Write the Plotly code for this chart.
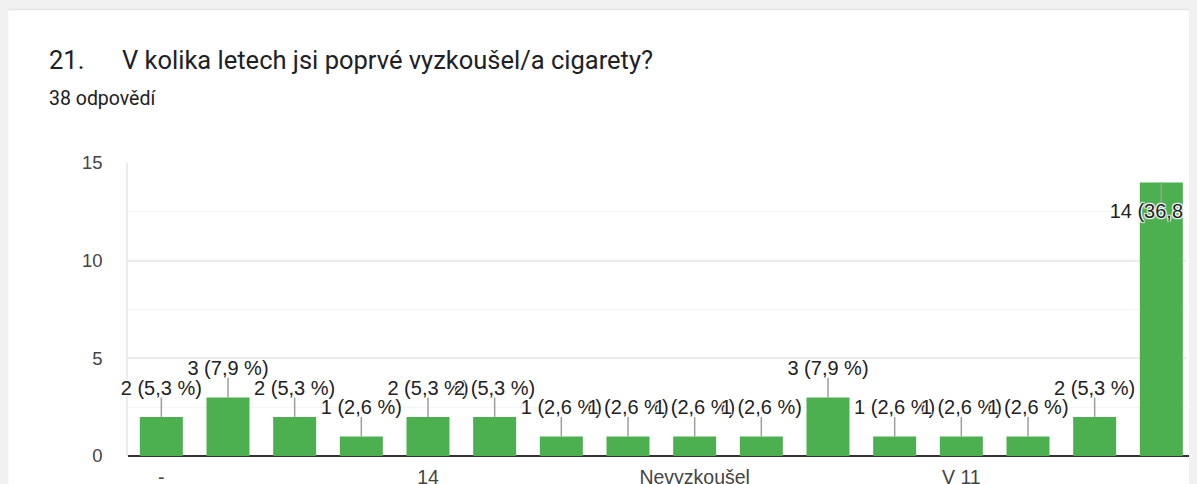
import plotly.graph_objects as go

# ---- data ----
categories = ["-", "10", "11", "13", "14", "15", "16", "17", "Nevyzkoušel",
              "Nikdy", "V 10", "V 10 letech", "V 11", "V 12", "V 13", "V 14"]
values = [2, 3, 2, 1, 2, 2, 1, 1, 1, 1, 3, 1, 1, 1, 2, 14]
total = 38
shown_ticks = ["-", "14", "Nevyzkoušel", "V 11"]
title_num = "21."
title_text = "V kolika letech jsi poprvé vyzkoušel/a cigarety?"
subtitle = "38 odpovědí"

# the page body adds an 8px offset, so the figure covers the rest of the window
OFF = 8
W, H = 1197 - OFF, 484 - OFF
L, T = 127.7 - OFF, 163 - OFF
R = W - (1190 - OFF)
B = H - (456 - OFF)
YMAX = 15

def fmt(v):
    p = v / total * 100
    return f"{v} ({p:.1f} %)".replace(".", ",")

labels = [fmt(v) for v in values]

# label / leader positions (data units)
lab_y, lx, ly = [], [], []
for c, v in zip(categories, values):
    if v + 2.2 > YMAX:
        lab_y.append(v - 1.55)
        lx += [c, c, None]
        ly += [v, v - 1.1, None]
    else:
        lab_y.append(v + 1.4)
        lx += [c, c, None]
        ly += [v, v + 1.0, None]

fig = go.Figure()
fig.add_trace(go.Bar(x=categories, y=values, marker=dict(color="#4caf50", line=dict(width=0)),
                     hoverinfo="skip"))
fig.add_trace(go.Scatter(x=lx, y=ly, mode="lines", line=dict(color="#9e9e9e", width=1.5),
                         hoverinfo="skip"))
halo = "white 1px 1px 1px, white -1px -1px 1px, white 1px -1px 1px, white -1px 1px 1px"
fig.add_trace(go.Scatter(x=categories, y=lab_y, mode="text", text=labels,
                         textposition="middle center", cliponaxis=False,
                         textfont=dict(family="Arial, Liberation Sans", size=20, color="#222222",
                                       shadow=halo),
                         hoverinfo="skip"))

fig.update_layout(
    width=W, height=H,
    margin=dict(l=L, r=R, t=T, b=B, autoexpand=False),
    paper_bgcolor="#f1f1f1", plot_bgcolor="white",
    showlegend=False, bargap=0.355,
    xaxis=dict(type="category", categoryorder="array", categoryarray=categories,
               range=[-0.5, 15.43], showgrid=False, showline=False, zeroline=False,
               tickmode="array", tickvals=shown_ticks, ticktext=shown_ticks,
               ticks="", ticklabelstandoff=7,
               tickfont=dict(family="Arial, Liberation Sans", size=19.5, color="#444444")),
    yaxis=dict(range=[0, YMAX], tickvals=[0, 5, 10, 15], showgrid=True, gridcolor="#ebebeb",
               gridwidth=1.5, layer="below traces",
               minor=dict(dtick=2.5, tick0=0, showgrid=True, gridcolor="#f5f5f5", gridwidth=1),
               zeroline=True, zerolinecolor="#333333", zerolinewidth=2,
               showline=True, linecolor="#ebebeb", linewidth=1.5, mirror=False,
               ticks="", ticklabelstandoff=20,
               tickfont=dict(family="Arial, Liberation Sans", size=18.5, color="#444444")),
)

pw = W - L - R
ph = H - T - B
def px(x):  # page x -> paper
    return (x - OFF - L) / pw
def py(y):  # page y -> paper
    return (H - B - (y - OFF)) / ph

shapes = [
    dict(type="rect", xref="paper", yref="paper", x0=px(8), x1=px(1190), y0=py(484), y1=py(10),
         fillcolor="white", line=dict(width=0), layer="below"),
    dict(type="line", xref="paper", yref="paper", x0=px(8), x1=px(1190), y0=py(9.5), y1=py(9.5),
         line=dict(color="#e4e4e4", width=1.5), layer="below"),
    # clip strip right of the last bar
    dict(type="rect", xref="paper", yref="paper", x0=px(1186.5), x1=px(1190), y0=py(452), y1=py(166),
         fillcolor="white", line=dict(width=0), layer="above"),
    dict(type="rect", xref="paper", yref="paper", x0=px(1190), x1=px(1194), y0=py(484), y1=py(40),
         fillcolor="#9b9b9b", line=dict(width=0), layer="above"),
    dict(type="rect", xref="paper", yref="paper", x0=px(1190), x1=px(1194), y0=py(40), y1=py(10),
         fillcolor="#c9c9c9", line=dict(width=0), layer="above"),
    dict(type="rect", xref="paper", yref="paper", x0=px(1194), x1=px(1197), y0=py(484), y1=py(10),
         fillcolor="#d2d2d2", line=dict(width=0), layer="above"),
]
fig.update_layout(shapes=shapes)

fig.add_annotation(xref="paper", yref="paper", x=px(47), y=py(60), xanchor="left", yanchor="middle",
                   text=title_num, showarrow=False,
                   font=dict(family="Roboto", size=25.5, color="#202124"))
fig.add_annotation(xref="paper", yref="paper", x=px(120), y=py(60), xanchor="left", yanchor="middle",
                   text=title_text, showarrow=False,
                   font=dict(family="Roboto", size=25.5, color="#202124"))
fig.add_annotation(xref="paper", yref="paper", x=px(47), y=py(98), xanchor="left", yanchor="middle",
                   text=subtitle, showarrow=False,
                   font=dict(family="Roboto", size=19.5, color="#202124"))

fig.write_html("out.html",
               post_script="document.body.style.background='#f1f1f1';")
